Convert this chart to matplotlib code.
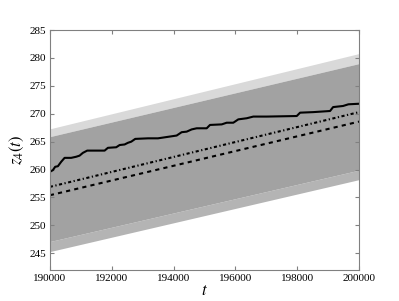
import numpy as np
import matplotlib.pyplot as plt

# band edges at the two ends of the window
t_ends = [190000, 200000]
outer_hi = [267.3, 280.8]
inner_hi = [265.9, 279.0]
inner_lo = [247.1, 259.9]
outer_lo = [245.3, 258.2]

# mean-type lines
dash_line = [255.4, 268.6]
dashdot_line = [256.9, 270.3]

t_obs = [190000, 190097, 190172, 190259, 190366, 190476, 190689, 190851, 190961,
         191068, 191207, 191770, 191877, 192146, 192256, 192417, 192524, 192631,
         192761, 193172, 193495, 194100, 194262, 194424, 194586, 194748, 195071,
         195178, 195557, 195718, 195932, 196094, 196366, 196579, 197013, 197984,
         198091, 198521, 199061, 199159, 199482, 199654, 200000]
z_obs = [259.6, 259.9, 260.5, 260.6, 261.4, 262.1, 262.1, 262.3, 262.5,
         263.0, 263.4, 263.4, 263.9, 264.0, 264.4, 264.5, 264.8, 265.0,
         265.5, 265.6, 265.6, 266.1, 266.7, 266.8, 267.2, 267.4, 267.4,
         268.0, 268.1, 268.4, 268.4, 269.0, 269.2, 269.5, 269.5, 269.6,
         270.2, 270.3, 270.5, 271.2, 271.4, 271.7, 271.8]

plt.rcParams['font.family'] = 'Liberation Serif'
plt.rcParams['mathtext.fontset'] = 'stix'

fig = plt.figure(figsize=(3.99, 3.01), dpi=100)
ax = fig.add_axes([0.125, 0.103, 0.775, 0.797])

ax.fill_between(t_ends, inner_hi, outer_hi, color='#d9d9d9', lw=0)
ax.fill_between(t_ends, outer_lo, inner_lo, color='#b4b4b4', lw=0)
ax.fill_between(t_ends, inner_lo, inner_hi, color='#a2a2a2', lw=0)

ax.plot(t_ends, dash_line, color='black', lw=1.5, dashes=(2, 2))
ax.plot(t_ends, dashdot_line, color='black', lw=1.5, dashes=(1.5, 1.2, 0.6, 1.2))
ax.plot(t_obs, z_obs, color='black', lw=1.5)

ax.set_xlim(190000, 200000)
ax.set_ylim(242, 285)
ax.set_xticks(np.arange(190000, 200001, 2000))
ax.set_yticks(np.arange(245, 286, 5))
ax.tick_params(direction='in', top=True, right=True, labelsize=8, length=3,
               color='#808080', pad=3)
for s in ax.spines.values():
    s.set_color('#808080')
ax.set_xlabel('$t$', fontsize=12, labelpad=0)
ax.set_ylabel('$z_4(t)$', fontsize=12, labelpad=2)

fig.savefig('out.png', dpi=100)
